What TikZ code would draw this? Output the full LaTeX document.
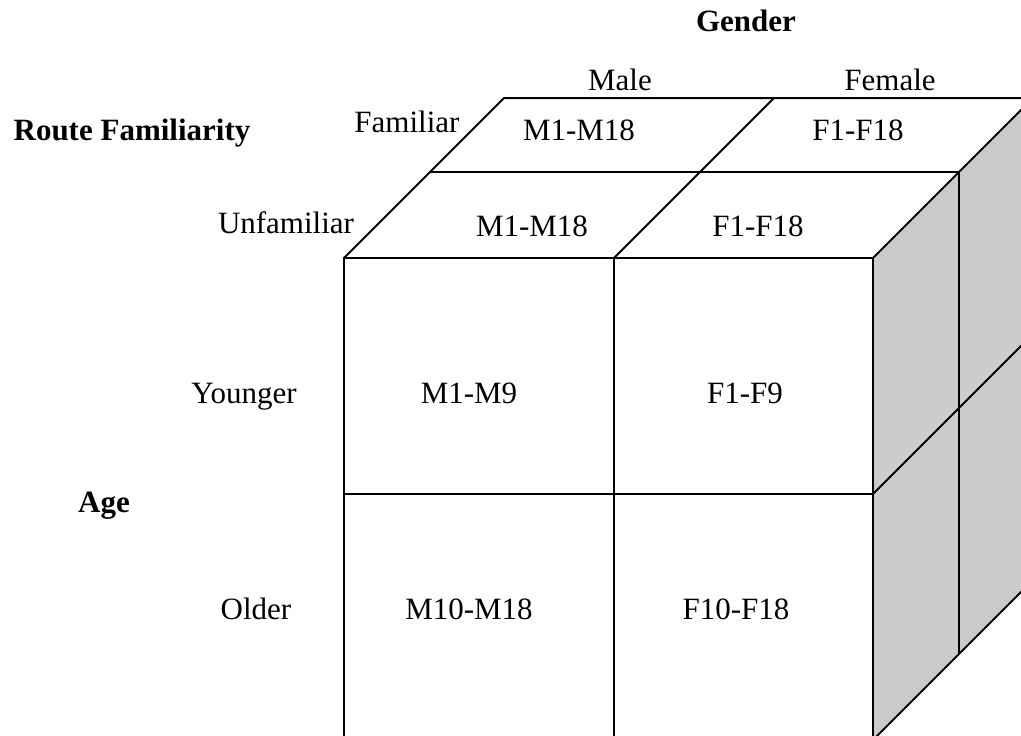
\documentclass[tikz,border=0pt]{standalone}
\usepackage{fontspec}
\setmainfont{Liberation Serif}
\definecolor{side}{RGB}{204, 204, 204}
\tikzstyle{lbl} = [inner sep=0pt, anchor=base, text=black, font=\fontsize{31}{37}\selectfont]
\tikzstyle{head} = [lbl, font=\fontsize{31}{37}\selectfont\bfseries]
\tikzstyle{edge} = [draw, line width=2pt, line join=miter]

\begin{document}
\begin{tikzpicture}[x=1pt, y=-1pt]

\useasboundingbox (0,0) rectangle (1021,736);
\clip (0,0) rectangle (1021,736);

% corners =============================

% front face
\coordinate (f00) at (344,258);
\coordinate (f10) at (614,258);
\coordinate (f20) at (873,258);
\coordinate (f01) at (343,494);
\coordinate (f21) at (873,494);
\coordinate (f02) at (344,740);
\coordinate (f12) at (614,740);
\coordinate (f22) at (873,740);

% middle depth
\coordinate (m0) at (430,172);
\coordinate (m2) at (959,172);
\coordinate (m2b) at (959,654);

% back
\coordinate (b0) at (504,98);
\coordinate (b1) at (774,98);
\coordinate (b2) at (1033,98);
\coordinate (b21) at (1033,334);
\coordinate (b22) at (1033,580);

% side face
\fill[side] (f20) -- (b2) -- (b22) -- (f22) -- cycle;

% edges
\path[edge] (f00) rectangle (f22);
\path[edge] (f10) -- (f12);
\path[edge] (f01) -- (f21);
\path[edge] (f00) -- (b0) -- (b2);
\path[edge] (f20) -- (b2);
\path[edge] (f10) -- (b1);
\path[edge] (m0) -- (m2) -- (m2b);
\path[edge] (f21) -- (b21);
\path[edge] (f22) -- (b22);

% labels =============================

% factors
\node[head] (gender) at (746,31) {Gender};
\node[head] (route) at (132,140) {Route Familiarity};
\node[head] (age) at (104,512) {Age};

% levels
\node[lbl] (male) at (620,90) {Male};
\node[lbl] (female) at (890,90) {Female};
\node[lbl] (fam) at (407,132) {Familiar};
\node[lbl] (unfam) at (286,233) {Unfamiliar};
\node[lbl] (young) at (244,403) {Younger};
\node[lbl] (old) at (256,619) {Older};

% cells
\node[lbl] (mfam) at (579,140) {M1-M18};
\node[lbl] (ffam) at (858,140) {F1-F18};
\node[lbl] (munfam) at (532,236) {M1-M18};
\node[lbl] (funfam) at (758,236) {F1-F18};
\node[lbl] (myoung) at (469,403) {M1-M9};
\node[lbl] (fyoung) at (745,403) {F1-F9};
\node[lbl] (mold) at (469,619) {M10-M18};
\node[lbl] (fold) at (736,619) {F10-F18};

\end{tikzpicture}
\end{document}
